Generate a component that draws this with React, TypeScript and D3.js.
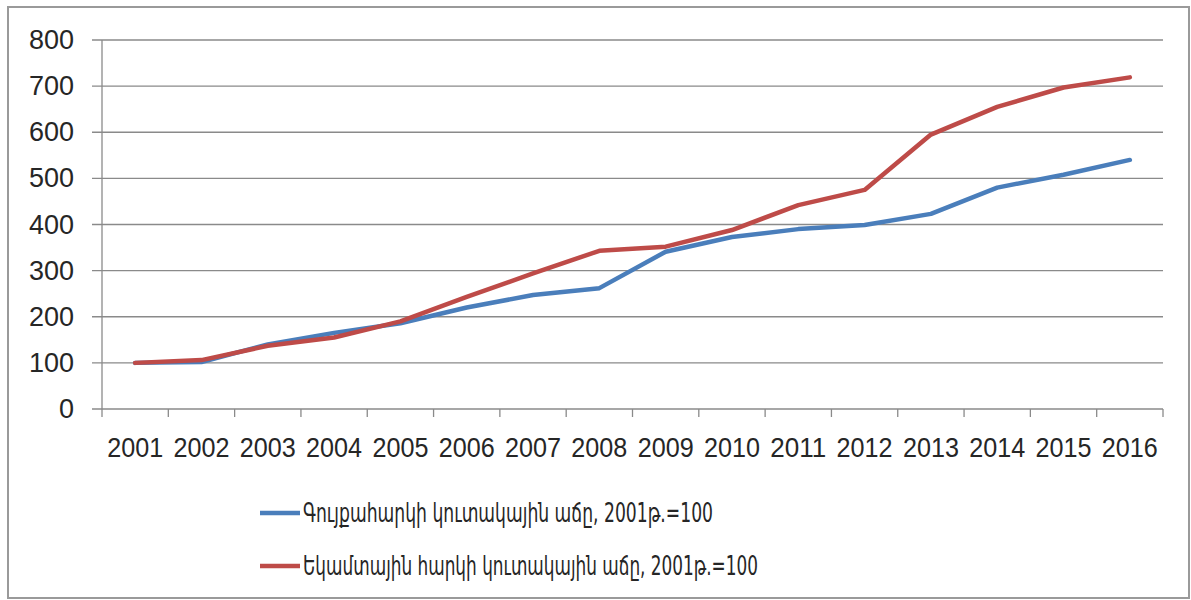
import React from "react";
import * as d3 from "d3";

const years = ["2001","2002","2003","2004","2005","2006","2007","2008","2009","2010","2011","2012","2013","2014","2015","2016"];
const propertyTax = [100, 102, 140, 165, 186, 220, 247, 262, 341, 373, 390, 399, 423, 480, 508, 540];
const incomeTax = [100, 106, 137, 155, 190, 243, 294, 343, 352, 388, 442, 475, 595, 655, 697, 719];
const yTicks = [0, 100, 200, 300, 400, 500, 600, 700, 800];
const seriesNames = [
  "Գույքահարկի կուտակային աճը, 2001թ.=100",
  "Եկամտային հարկի կուտակային աճը, 2001թ.=100",
];
const colors = ["#4a7ebb", "#be4b48"];

const W = 1191;
const H = 600;
const left = 102;
const right = 1163;
const top = 40;
const bottom = 409;

export default function App() {
  const x = d3.scaleBand<string>().domain(years).range([left, right]);
  const y = d3.scaleLinear().domain([0, 800]).range([bottom, top]);
  const line = d3
    .line<number>()
    .x((_, i) => (x(years[i]) as number) + x.bandwidth() / 2)
    .y((d) => y(d));
  const series = [propertyTax, incomeTax];
  const boundaries = years.map((yr) => x(yr) as number).concat([right]);
  const labelFont = "'Liberation Sans', Arial, sans-serif";
  const legendWidths = [410, 455];

  return (
    <svg
      width={W}
      height={H}
      style={{ position: "absolute", left: 0, top: 0, background: "#fff" }}
    >
      <rect x={8} y={7} width={1181} height={591} fill="#fff" stroke="#9a9a9a" strokeWidth={2} />
      {yTicks.map((t) => (
        <g key={t}>
          <line x1={92} x2={right} y1={y(t)} y2={y(t)} stroke="#8a8a8a" strokeWidth={1.3} />
          <text
            x={74}
            y={y(t)}
            textAnchor="end"
            dominantBaseline="central"
            fontFamily={labelFont}
            fontSize={27}
            fill="#262626"
          >
            {t}
          </text>
        </g>
      ))}
      <line x1={left} x2={left} y1={top} y2={bottom} stroke="#8a8a8a" strokeWidth={1.3} />
      {boundaries.map((b, i) => (
        <line key={i} x1={b} x2={b} y1={bottom} y2={bottom + 8} stroke="#8a8a8a" strokeWidth={1.3} />
      ))}
      {years.map((yr) => (
        <text
          key={yr}
          x={(x(yr) as number) + x.bandwidth() / 2}
          y={457}
          textAnchor="middle"
          fontFamily={labelFont}
          fontSize={28}
          fill="#262626"
          textLength={56}
          lengthAdjust="spacingAndGlyphs"
        >
          {yr}
        </text>
      ))}
      {series.map((s, i) => (
        <path
          key={i}
          d={line(s) as string}
          fill="none"
          stroke={colors[i]}
          strokeWidth={4.5}
          strokeLinejoin="round"
          strokeLinecap="round"
        />
      ))}
      {seriesNames.map((name, i) => {
        const ly = 513 + i * 53;
        return (
          <g key={i}>
            <line x1={260} x2={300} y1={ly} y2={ly} stroke={colors[i]} strokeWidth={4.5} />
            <text
              x={303}
              y={ly}
              dominantBaseline="central"
              fontFamily="'DejaVu Sans Condensed', 'DejaVu Sans', sans-serif"
              fontSize={26}
              fill="#262626"
              textLength={legendWidths[i]}
              lengthAdjust="spacingAndGlyphs"
            >
              {name}
            </text>
          </g>
        );
      })}
    </svg>
  );
}
